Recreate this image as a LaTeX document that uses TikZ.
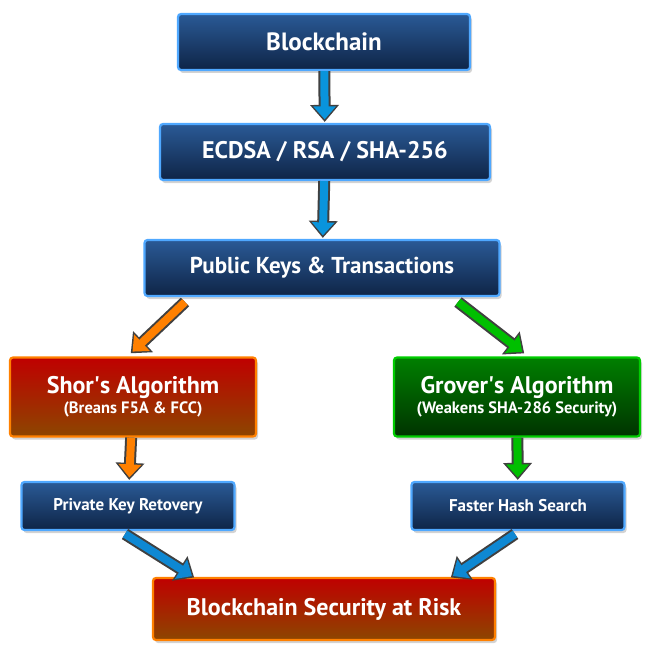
\documentclass[tikz,border=0pt]{standalone}
\usepackage{fontspec}
\setmainfont{PT Sans}
\usetikzlibrary{arrows.meta,shadows}
\definecolor{navtop}{HTML}{2A5A96}
\definecolor{navbot}{HTML}{0E2446}
\definecolor{edgeb}{HTML}{4FA8FF}
\begin{document}
\begin{tikzpicture}[x=1pt,y=-1pt,
 box/.style={draw=#1,line width=2.2pt,rounded corners=3pt,inner sep=0pt,
   text=white,font=\bfseries,align=center,drop shadow={opacity=0.35,shadow xshift=2pt,shadow yshift=-3pt}},
 bluebox/.style={box=edgeb,top color=navtop,bottom color=navbot},
 redbox/.style={box=orange,top color=red!75!black,bottom color=orange!55!black},
 greenbox/.style={box=green!80!black,top color=green!50!black,bottom color=green!20!black},
 outl/.style={line width=12pt,black!75,-{Triangle[length=17pt,width=28pt]},shorten >=1pt},
 fill1/.style={line width=8pt,#1,-{Triangle[length=13pt,width=22pt]},shorten >=3.5pt}]
\useasboundingbox (0,0) rectangle (646,650);
\node[bluebox,minimum width=292pt,minimum height=56pt,font=\bfseries\fontsize{25}{28}\selectfont] (bc) at (324,42) {Blockchain};
\node[bluebox,minimum width=330pt,minimum height=56pt,font=\bfseries\fontsize{24}{28}\selectfont] (ec) at (325,152) {ECDSA / RSA / SHA-256};
\node[bluebox,minimum width=355pt,minimum height=56pt,font=\bfseries\fontsize{23}{28}\selectfont] (pk) at (322,268) {Public Keys \& Transactions};
\node[redbox,minimum width=246pt,minimum height=79pt] (sh) at (133,397) {{\fontsize{24}{26}\selectfont Shor\textquotesingle s Algorithm}\\[2pt]{\fontsize{16.5}{18}\selectfont (Breans F5A \& FCC)}};
\node[greenbox,minimum width=246pt,minimum height=79pt] (gr) at (517,397) {{\fontsize{24}{26}\selectfont Grover\textquotesingle s Algorithm}\\[2pt]{\fontsize{16.5}{18}\selectfont (Weakens SHA-286 Security)}};
\node[bluebox,minimum width=213pt,minimum height=48pt,font=\bfseries\fontsize{17}{19}\selectfont] (pr) at (128,506) {Private Key Retovery};
\node[bluebox,minimum width=213pt,minimum height=48pt,font=\bfseries\fontsize{17}{19}\selectfont] (fh) at (518,506) {Faster Hash Search};
\node[redbox,minimum width=342pt,minimum height=62pt,font=\bfseries\fontsize{24}{28}\selectfont] (rk) at (324,609) {Blockchain Security at Risk};
\foreach \a/\b/\c in {bc/ec/cyan!80!blue, ec/pk/cyan!80!blue, sh/pr/orange, gr/fh/green!75!black}{
 \draw[outl] (\a) -- (\b); \draw[fill1=\c] (\a) -- (\b);}
\coordinate (p1) at (185,302); \coordinate (s1) at (130,354);
\coordinate (p2) at (458,302); \coordinate (g1) at (525,354);
\coordinate (r1) at (125,534); \coordinate (r2) at (195,578);
\coordinate (f1) at (515,534); \coordinate (f2) at (450,578);
\draw[outl] (p1) -- (s1); \draw[fill1=orange] (p1) -- (s1);
\draw[outl] (p2) -- (g1); \draw[fill1=green!75!black] (p2) -- (g1);
\draw[outl] (r1) -- (r2); \draw[fill1=cyan!70!blue] (r1) -- (r2);
\draw[outl] (f1) -- (f2); \draw[fill1=cyan!70!blue] (f1) -- (f2);
\end{tikzpicture}
\end{document}
